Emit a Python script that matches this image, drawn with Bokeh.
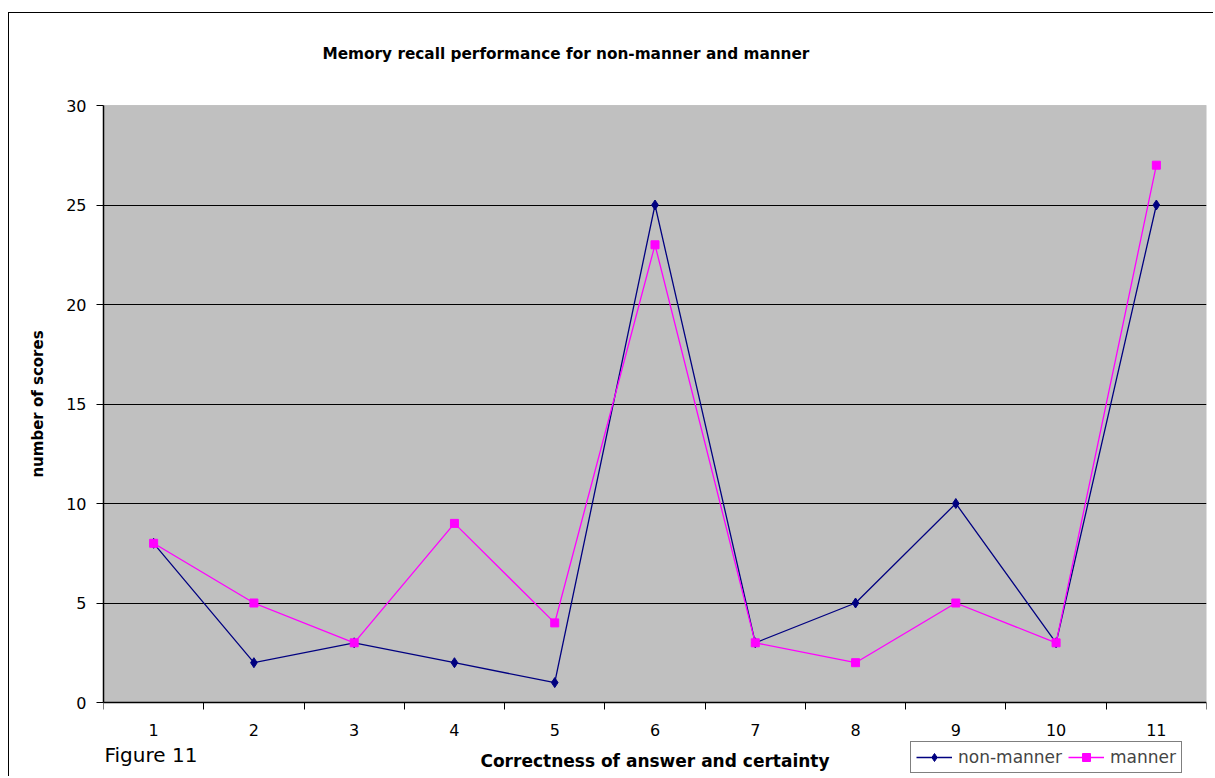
from bokeh.plotting import figure
from bokeh.models import FixedTicker, Legend, LegendItem, Label, ColumnDataSource, BoxAnnotation
from bokeh.embed import file_html
from bokeh.resources import INLINE

categories = [1, 2, 3, 4, 5, 6, 7, 8, 9, 10, 11]
tick_labels = ["1", "2", "3", "4", "5", "6", "7", "8", "9", "10", "11"]
non_manner = [8, 2, 3, 2, 1, 25, 3, 5, 10, 3, 25]
manner = [8, 5, 3, 9, 4, 23, 3, 2, 5, 3, 27]
y_ticks = [0, 5, 10, 15, 20, 25, 30]

FONT = "DejaVu Sans"

# layout geometry (pixels)
PLOT_H = 597.0                      # height of the grey plotting area
PAD_PX = 75.0                       # frame extends this far above and below it
y_pad = PAD_PX * (y_ticks[-1] - y_ticks[0]) / PLOT_H
x_lo, x_hi = categories[0] - 0.5, categories[-1] + 0.5

p = figure(width=1205, height=764, output_backend="svg", toolbar_location=None,
           x_range=(x_lo, x_hi), y_range=(y_ticks[0] - y_pad, y_ticks[-1] + y_pad),
           min_border_left=94, min_border_right=8, min_border_top=17, min_border_bottom=0)
p.styles = {"margin-left": "8px", "margin-top": "12px",
            "border-left": "1px solid black", "border-top": "1px solid black"}

p.background_fill_color = "white"
p.border_fill_color = "white"
p.outline_line_color = None

# grey plotting area
p.add_layout(BoxAnnotation(left=x_lo, right=x_hi, bottom=y_ticks[0], top=y_ticks[-1],
                           fill_color="#C0C0C0", fill_alpha=1.0,
                           line_color="#808080", line_width=1, level="image"))

# grid
p.xgrid.grid_line_color = None
p.ygrid.ticker = FixedTicker(ticks=y_ticks[1:-1])
p.ygrid.grid_line_color = "black"
p.ygrid.grid_line_width = 1

# y axis
p.yaxis.ticker = FixedTicker(ticks=y_ticks)
p.yaxis.bounds = (y_ticks[0], y_ticks[-1])
p.yaxis.axis_label = "number of scores"
p.yaxis.axis_label_text_font = FONT
p.yaxis.axis_label_text_font_size = "15px"
p.yaxis.axis_label_text_font_style = "bold"
p.yaxis.axis_label_text_color = "black"
p.yaxis.axis_label_standoff = 16
p.yaxis.major_label_text_font = FONT
p.yaxis.major_label_text_font_size = "16px"
p.yaxis.major_label_text_color = "black"
p.yaxis.major_label_standoff = 10
p.yaxis.major_tick_out = 7
p.yaxis.major_tick_in = 0
p.yaxis.minor_tick_line_color = None
p.yaxis.axis_line_color = "black"
p.yaxis.axis_line_width = 1.5

# x axis (category axis, ticks between categories)
xticks = FixedTicker(ticks=categories,
                     minor_ticks=[c - 0.5 for c in categories] + [categories[-1] + 0.5])
p.xaxis.ticker = xticks
p.xaxis.fixed_location = 0
p.xaxis.major_label_overrides = {c: t for c, t in zip(categories, tick_labels)}
p.xaxis.axis_label = "Correctness of answer and certainty"
p.xaxis.axis_label_text_font = FONT
p.xaxis.axis_label_text_font_size = "17px"
p.xaxis.axis_label_text_font_style = "bold"
p.xaxis.axis_label_text_color = "black"
p.xaxis.axis_label_standoff = 12
p.xaxis.major_label_text_font = FONT
p.xaxis.major_label_text_font_size = "16px"
p.xaxis.major_label_text_color = "black"
p.xaxis.major_label_standoff = 14
p.xaxis.major_tick_line_color = None
p.xaxis.major_tick_out = 7
p.xaxis.major_tick_in = 0
p.xaxis.minor_tick_line_color = "black"
p.xaxis.minor_tick_out = 7
p.xaxis.minor_tick_in = 0
p.xaxis.axis_line_color = "black"
p.xaxis.axis_line_width = 1.5

src = ColumnDataSource(dict(x=categories, nm=non_manner, m=manner))

l1 = p.line("x", "nm", source=src, line_color="#000080", line_width=1.3)
s1 = p.scatter("x", "nm", source=src, marker="diamond", size=10,
               fill_color="#000080", line_color="#000080")
l2 = p.line("x", "m", source=src, line_color="#FF00FF", line_width=1.3)
s2 = p.scatter("x", "m", source=src, marker="square", size=8,
               fill_color="#FF00FF", line_color="#FF00FF")

legend = Legend(items=[LegendItem(label="non-manner", renderers=[l1, s1]),
                       LegendItem(label="manner", renderers=[l2, s2])],
                orientation="horizontal", location=(807, 4),
                label_text_font=FONT, label_text_font_size="17px",
                border_line_color="black", border_line_width=1,
                background_fill_color="white", background_fill_alpha=1,
                padding=5, spacing=6, margin=0, glyph_width=36, label_standoff=6)
p.add_layout(legend, "center")

title = Label(x=219, y=724, x_units="screen", y_units="screen",
              text="Memory recall performance for non-manner and manner",
              text_font=FONT, text_font_size="15.3px", text_font_style="bold",
              text_align="left", text_baseline="alphabetic", text_color="black")
p.add_layout(title)

fig_label = Label(x=1, y=23, x_units="screen", y_units="screen", text="Figure 11",
                  text_font=FONT, text_font_size="20px", text_baseline="alphabetic",
                  text_color="black")
p.add_layout(fig_label)

open("out.html", "w").write(file_html(p, INLINE))
